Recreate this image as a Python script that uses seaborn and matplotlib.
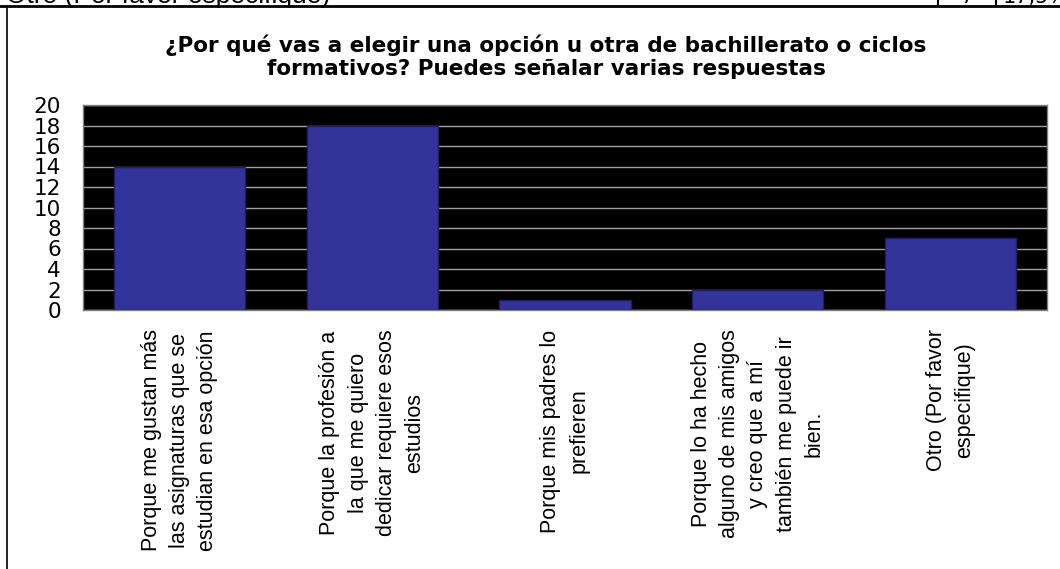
import matplotlib.pyplot as plt
import seaborn as sns
from matplotlib.lines import Line2D

# =========================================================
# DATA
# =========================================================

categories = [
    "Porque me gustan más\nlas asignaturas que se\nestudian en esa opción",
    "Porque la profesión a\nla que me quiero\ndedicar requiere esos\nestudios",
    "Porque mis padres lo\nprefieren",
    "Porque lo ha hecho\nalguno de mis amigos\ny creo que a mí\ntambién me puede ir\nbien.",
    "Otro (Por favor\nespecifique)",
]
responses = [14, 18, 1, 2, 7]
y_ticks = list(range(0, 21, 2))

title = (
    "¿Por qué vas a elegir una opción u otra de bachillerato o ciclos\n"
    "formativos? Puedes señalar varias respuestas"
)

# =========================================================
# STYLE
# =========================================================

sns.set_style("white")
plt.rcParams["font.family"] = ["DejaVu Sans"]
plt.rcParams["text.color"] = "black"
plt.rcParams["xtick.color"] = "black"
plt.rcParams["ytick.color"] = "black"
plt.rcParams["axes.labelcolor"] = "black"

label_font = ["Liberation Sans", "DejaVu Sans"]

W, H = 1060, 569
fig = plt.figure(figsize=(W / 100, H / 100), dpi=100)


def px_x(x):
    return x / W


def px_y(y):
    return 1 - y / H


ax = fig.add_axes([
    px_x(83),
    px_y(310),
    px_x(1047) - px_x(83),
    px_y(105) - px_y(310),
])

ax.set_facecolor("black")

sns.barplot(
    x=categories,
    y=responses,
    color="#333399",
    edgecolor="#1f1f66",
    linewidth=1,
    width=0.68,
    saturation=1,
    ax=ax,
    zorder=3,
)

ax.set_ylim(0, 20)
ax.set_xlim(-0.5, len(categories) - 0.5)
ax.set_yticks(y_ticks)
ax.set_yticklabels([str(v) for v in y_ticks], fontsize=15.5)

for y in y_ticks:
    ax.axhline(y, color="#a0a0a0", linewidth=1, zorder=1)

# category boundary ticks below the axis
ax.set_xticks([i + 0.5 for i in range(-1, len(categories))], minor=True)
ax.tick_params(axis="x", which="minor", length=5, color="#808080", width=1)
ax.tick_params(axis="x", which="major", length=0, pad=14)
ax.tick_params(axis="y", length=5.8, color="#808080", width=1, pad=10)

ax.set_xticks(range(len(categories)))
ax.set_xticklabels(
    categories,
    rotation=90,
    ha="center",
    va="top",
    multialignment="center",
    family=label_font,
    fontsize=15.5,
    linespacing=1.45,
)

for spine in ax.spines.values():
    spine.set_color("#808080")
    spine.set_linewidth(1)

ax.set_xlabel("")
ax.set_ylabel("")

# =========================================================
# TITLE AND SURROUNDING FRAME
# =========================================================

fig.text(
    px_x(546),
    px_y(57),
    title,
    ha="center",
    va="center",
    fontsize=15.5,
    fontweight="bold",
    linespacing=1.2,
)

fig.text(
    px_x(6),
    px_y(3),
    "Otro (Por favor especifique)",
    ha="left",
    va="baseline",
    family=label_font,
    fontsize=19,
)
fig.text(px_x(967), px_y(3), "7", ha="center", va="baseline", fontsize=15)
fig.text(px_x(1003), px_y(3), "17,5%", ha="left", va="baseline", fontsize=15)

frame_lines = [
    ([0, 1], [px_y(6), px_y(6)], 2.0),
    ([px_x(7), px_x(7)], [px_y(6), 0], 1.2),
    ([px_x(938), px_x(938)], [1, px_y(6)], 1.5),
    ([px_x(996), px_x(996)], [1, px_y(6)], 1.5),
]
for xs, ys, lw in frame_lines:
    fig.add_artist(Line2D(xs, ys, color="black", linewidth=lw))

plt.savefig("out.png", dpi=100)
plt.close()
